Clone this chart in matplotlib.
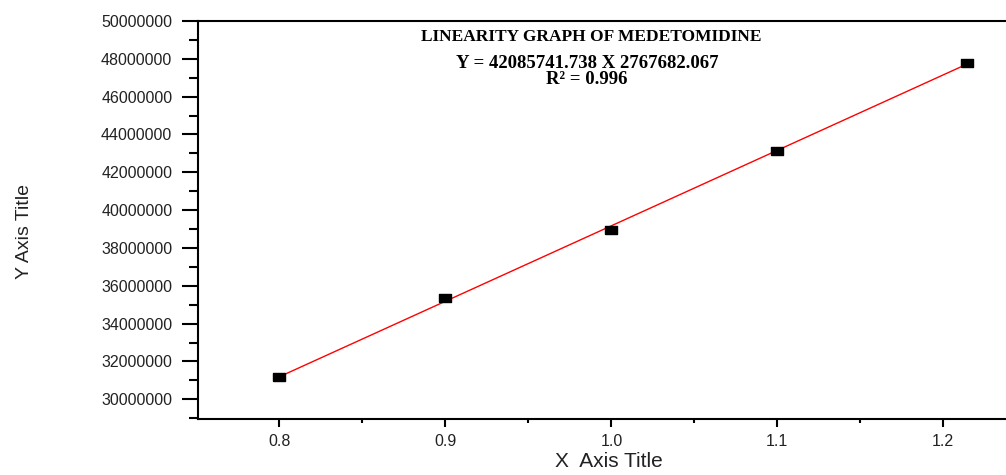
import numpy as np
import matplotlib
matplotlib.use("Agg")
import matplotlib.pyplot as plt
from matplotlib.ticker import MultipleLocator, FormatStrFormatter

# values
conc = [0.8, 0.9, 1.0, 1.1, 1.214]
area = [31180000, 35350000, 38970000, 43150000, 47780000]
y_ticks = list(range(30000000, 50000001, 2000000))
x_ticks = [0.8, 0.9, 1.0, 1.1, 1.2]

title = "LINEARITY GRAPH OF MEDETOMIDINE"
equation = "Y = 42085741.738 X 2767682.067"
r2_text = "R\u00b2 = 0.996"

W, H = 1006, 475
fig = plt.figure(figsize=(W / 100, H / 100), dpi=100)
# axes runs a little past the right edge, as in the picture
ax = fig.add_axes([198 / W, 56 / H, 818 / W, 398 / H])

# linear fit through the points, drawn from the first to the last concentration
slope, intercept = np.polyfit(conc, area, 1)
xfit = np.array([conc[0], conc[-1]])
ax.plot(xfit, slope * xfit + intercept, color="red", lw=1.0, zorder=2)

rect = [(-1.5, -1), (1.5, -1), (1.5, 1), (-1.5, 1), (-1.5, -1)]
ax.plot(conc, area, linestyle="none", marker=rect, markersize=8,
        color="black", zorder=3)

ax.set_xlim(0.7509, 1.2438)
ax.set_ylim(28960000, 50000000)
ax.set_xticks(x_ticks)
ax.set_yticks(y_ticks)
ax.xaxis.set_minor_locator(MultipleLocator(0.05))
ax.yaxis.set_minor_locator(MultipleLocator(1000000))
ax.xaxis.set_major_formatter(FormatStrFormatter("%.1f"))
ax.yaxis.set_major_formatter(FormatStrFormatter("%d"))

for side in ["left", "bottom", "top"]:
    ax.spines[side].set_linewidth(1.5)
ax.spines["right"].set_visible(False)

ax.tick_params(axis="y", which="major", direction="out", length=11.5,
               width=1.5, pad=7, labelsize=11.5)
ax.tick_params(axis="y", which="minor", direction="out", length=6.5, width=1.5)
ax.tick_params(axis="x", which="major", direction="out", length=5.5,
               width=1.5, pad=5, labelsize=11.5)
ax.tick_params(axis="x", which="minor", direction="out", length=3, width=1.5)
for lab in ax.get_xticklabels() + ax.get_yticklabels():
    lab.set_family("Liberation Sans")
    lab.set_color("#222222")

ax.set_xlabel("X  Axis Title", family="Liberation Sans", fontsize=15, color="#222222")
ax.xaxis.set_label_coords(0.5024, -0.106)
ax.xaxis.label.set_va("center")
ax.set_ylabel("Y Axis Title", family="Liberation Sans", fontsize=14, color="#222222")
ax.yaxis.set_label_coords(-0.2115, 0.47)
ax.yaxis.label.set_va("center")

# annotation block at the top of the plot
fig.text(591 / W, 1 - 37 / H, title, family="Liberation Serif", weight="bold",
         fontsize=12.5, ha="center", va="center")
fig.text(587 / W, 1 - 63 / H, equation, family="Liberation Serif", weight="bold",
         fontsize=13.5, ha="center", va="center")
fig.text(587 / W, 1 - 80 / H, r2_text, family="Liberation Serif", weight="bold",
         fontsize=13.5, ha="center", va="center")

fig.savefig("out.png", dpi=100)
